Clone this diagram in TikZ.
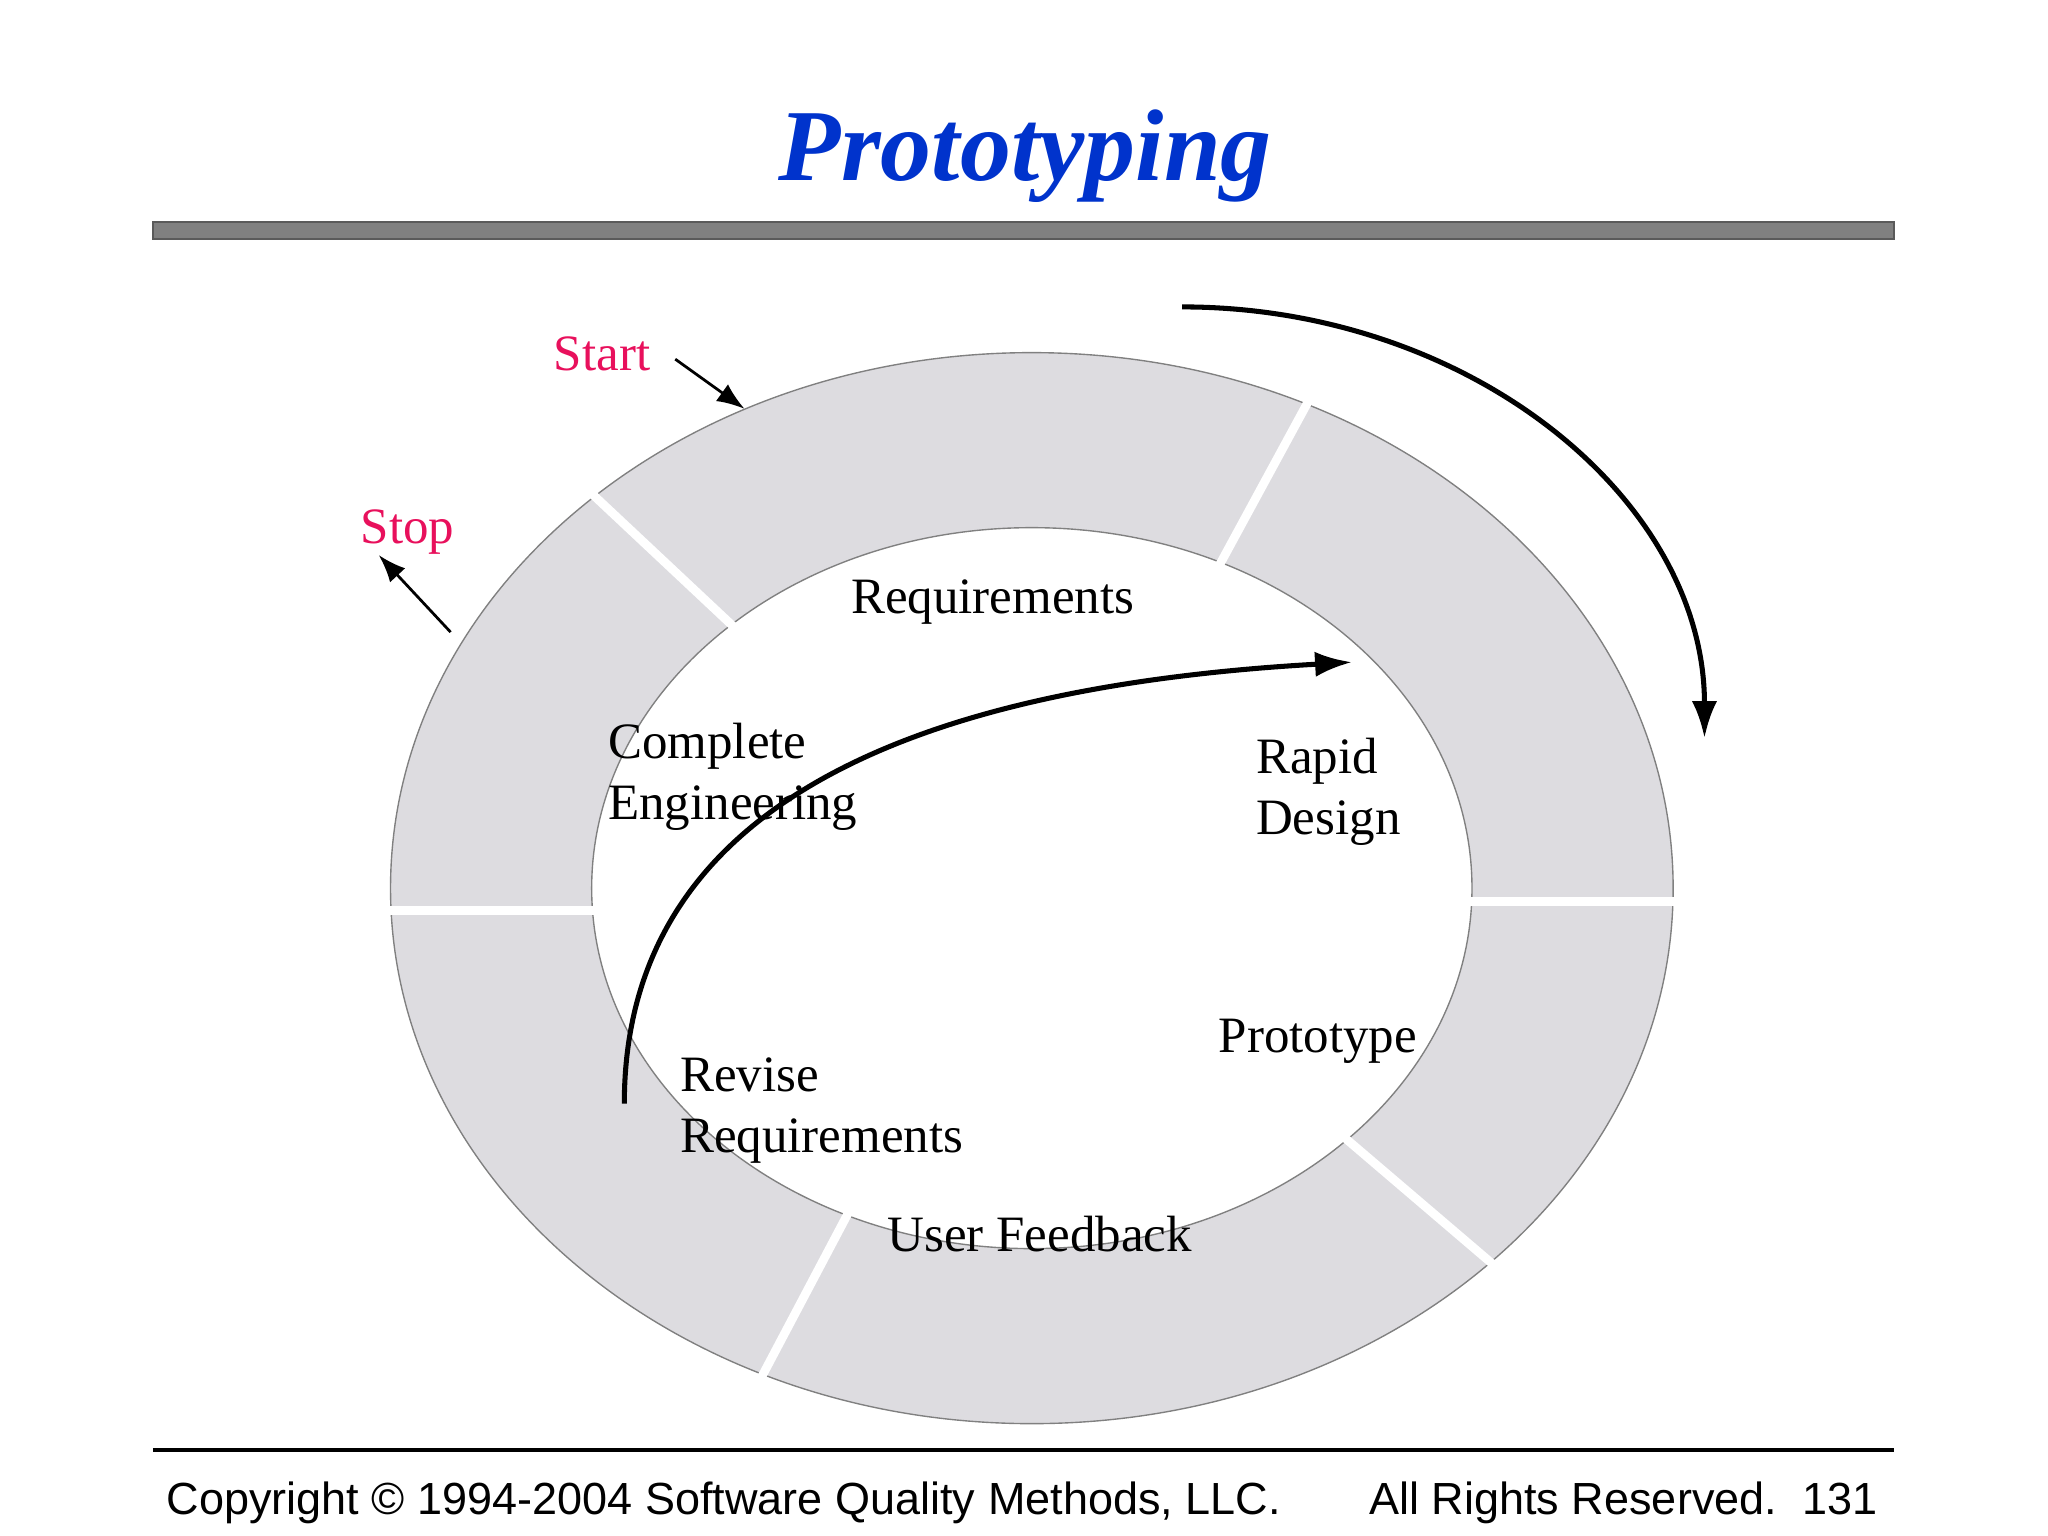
\documentclass[tikz,border=0pt]{standalone}
\usepackage{fontspec}
\setmainfont{Liberation Serif}
\newfontfamily\footfont{Liberation Sans}
\usetikzlibrary{calc,arrows.meta}

\definecolor{ringgray}{RGB}{221,220,224}
\definecolor{titleblue}{RGB}{0,51,204}
\definecolor{markred}{RGB}{232,16,92}
\definecolor{bargray}{RGB}{128,128,128}

\begin{document}
\begin{tikzpicture}[x=0.01cm,y=0.01cm,
  phase/.style={font=\fontsize{11.1}{13.3}\selectfont, align=left, inner sep=0pt},
  marklabel/.style={font=\fontsize{11.1}{13.3}\selectfont, text=markred, inner sep=0pt},
  footer/.style={font=\footfont\fontsize{9.8}{12}\selectfont, inner sep=0pt},
  gap/.style={white, line width=1.9pt},
  pointer/.style={-{Latex[length=6pt,width=4.5pt]}, line width=0.6pt},
  cycle/.style={-{Latex[length=8pt,width=5.5pt]}, line width=1.1pt}]

\useasboundingbox (0,0) rectangle (1568,1176);

 \node[anchor=base, font=\fontsize{22.2}{26}\selectfont\bfseries\itshape, text=titleblue] (title) at (785,1038) {Prototyping};
 \draw[fill=bargray, draw=bargray!70!black, line width=0.4pt] (117,993) rectangle (1450,1006);

 % the ring of phases
 \coordinate (ctr) at (790,496);
 \filldraw[fill=ringgray, draw=gray, line width=0.3pt] (ctr) ellipse [x radius=491, y radius=410];
 \filldraw[fill=white, draw=gray, line width=0.3pt] (ctr) ellipse [x radius=337, y radius=276];

 \foreach \t in {133,64.6,-44.3,-114.8}
   \draw[gap] ($(ctr)+({334*cos(\t)},{273*sin(\t)})$) -- ($(ctr)+({494*cos(\t)},{413*sin(\t)})$);
 \draw[gap] (1122,486) -- (1285,486);
 \draw[gap] (458,479) -- (295,479);

 \node[phase] (req) at (760,715) {Requirements};
 \node[phase, anchor=west] (eng) at (465,581) {Complete\\Engineering};
 \node[phase, anchor=west] (rapid) at (961,570) {Rapid\\Design};
 \node[phase] (proto) at (1009,379) {Prototype};
 \node[phase, anchor=west] (revise) at (520,326) {Revise\\Requirements};
 \node[phase] (feedback) at (796,231) {User Feedback};

 \node[marklabel] (start) at (461,905) {Start};
 \node[marklabel] (stop) at (312,769) {Stop};
 \coordinate (startTail) at (517,901);
 \coordinate (startTip) at (570,863);
 \coordinate (stopTail) at (345,692);
 \coordinate (stopTip) at (290,751);
 \draw[pointer] (startTail) -- (startTip);
 \draw[pointer] (stopTail) -- (stopTip);

 \coordinate (outerFrom) at (905,941);
 \draw[cycle] (outerFrom) arc[start angle=90, end angle=0, x radius=400, y radius=330];

 \coordinate (innerFrom) at (478,331);
 \coordinate (innerTo) at (1035,669);
 \draw[cycle] (innerFrom) .. controls (478,560) and (700,650) .. (innerTo);

 \draw[line width=0.8pt] (117,66) -- (1450,66);
 \node[footer, anchor=west] (copy) at (127,25) {Copyright © 1994-2004 Software Quality Methods, LLC.};
 \node[footer, anchor=east] (rights) at (1438,25) {All Rights Reserved.\ \ 131};

\end{tikzpicture}
\end{document}
